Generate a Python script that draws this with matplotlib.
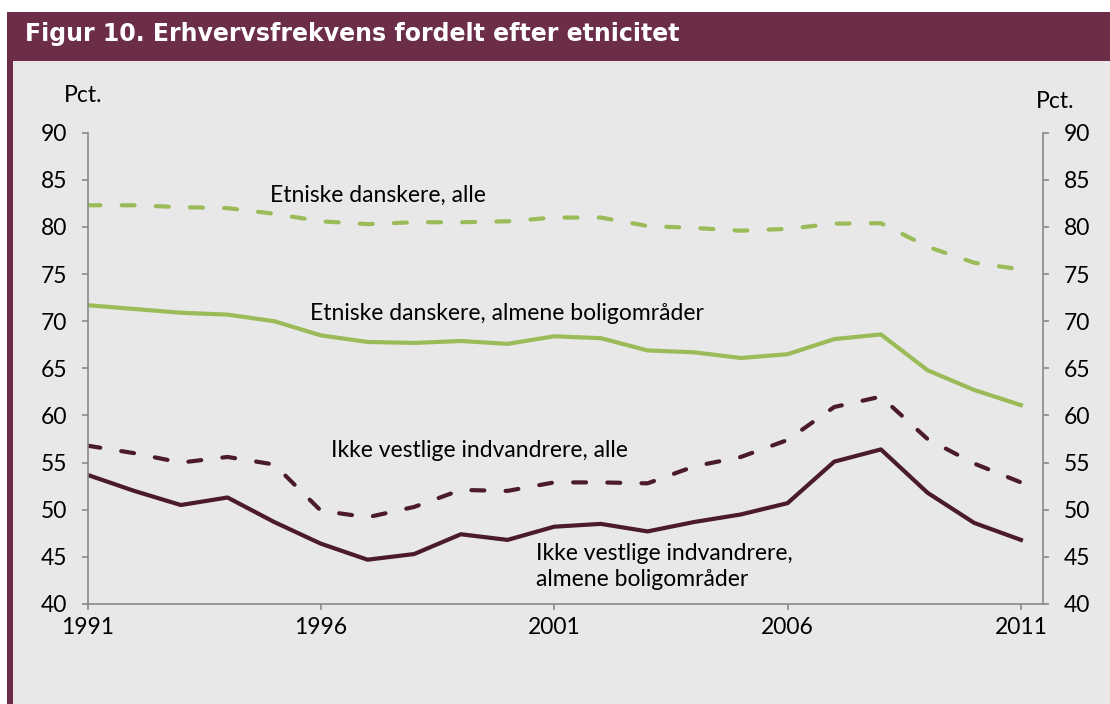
import numpy as np
import matplotlib.pyplot as plt
from matplotlib.patches import Rectangle

years = np.arange(1991, 2012)

# Etniske danskere, alle
dk_alle = [82.3, 82.3, 82.1, 82.0, 81.4, 80.6, 80.3, 80.5, 80.5, 80.6, 81.0,
           81.0, 80.1, 79.9, 79.6, 79.8, 80.35, 80.4, 77.9, 76.2, 75.5]
# Etniske danskere, almene boligomraader
dk_almene = [71.7, 71.3, 70.9, 70.7, 70.0, 68.5, 67.8, 67.7, 67.9, 67.6, 68.4,
             68.2, 66.9, 66.7, 66.1, 66.5, 68.1, 68.6, 64.8, 62.7, 61.1]
# Ikke vestlige indvandrere, alle
iv_alle = [56.8, 56.0, 55.0, 55.6, 54.8, 49.9, 49.2, 50.3, 52.1, 52.0, 52.9,
           52.9, 52.8, 54.6, 55.6, 57.4, 60.9, 62.0, 57.5, 54.9, 52.9]
# Ikke vestlige indvandrere, almene boligomraader
iv_almene = [53.7, 52.0, 50.5, 51.3, 48.7, 46.4, 44.7, 45.3, 47.4, 46.8, 48.2,
             48.5, 47.7, 48.7, 49.5, 50.7, 55.1, 56.4, 51.8, 48.6, 46.8]

yticks = [40, 45, 50, 55, 60, 65, 70, 75, 80, 85, 90]
xticks = [1991, 1996, 2001, 2006, 2011]

green = '#9bbb59'
dark = '#4b1a2d'
maroon = '#6b2d47'
bg = '#e8e8e8'
axcol = '#8a8a8a'

W, H = 1110, 704
fig = plt.figure(figsize=(W / 100, H / 100), dpi=100, facecolor='white')

# frame: grey panel, maroon title bar and left strip
fig.patches.append(Rectangle((13 / W, 0), 1 - 13 / W, 1 - 61 / H, transform=fig.transFigure,
                             facecolor=bg, edgecolor='none', zorder=-5))
fig.patches.append(Rectangle((7 / W, 0), 6 / W, 1 - 12 / H, transform=fig.transFigure,
                             facecolor=maroon, edgecolor='none', zorder=-5))
fig.patches.append(Rectangle((7 / W, 1 - 61 / H), 1 - 7 / W, 49 / H, transform=fig.transFigure,
                             facecolor=maroon, edgecolor='none', zorder=-5))
fig.text(25 / W, 1 - 34 / H, 'Figur 10. Erhvervsfrekvens fordelt efter etnicitet',
         color='white', fontsize=17, fontweight='bold', family='DejaVu Sans', va='center')

font = 'Lato'
fs = 16.5
dash = (3.1, 5.1)

ax = fig.add_axes([87.5 / W, 1 - 604 / H, (1043.3 - 87.5) / W, (604 - 132.7) / H])
ax.set_zorder(2)
ax.patch.set_alpha(0)

ax.plot(years, dk_alle, color=green, lw=3, dashes=dash, dash_capstyle='round')
ax.plot(years, dk_almene, color=green, lw=3)
ax.plot(years, iv_alle, color=dark, lw=3, dashes=dash, dash_capstyle='round')
ax.plot(years, iv_almene, color=dark, lw=3)

ax.set_xlim(1991, 2011.48)
ax.set_ylim(40, 90)
ax.set_xticks(xticks)
ax.set_yticks(yticks)
ax.spines['top'].set_visible(False)
for s in ['left', 'right', 'bottom']:
    ax.spines[s].set_color(axcol)
    ax.spines[s].set_linewidth(1.2)
ax.tick_params(axis='y', left=True, right=True, labelleft=True, labelright=True,
               direction='out', length=4.5, width=1.2, color=axcol, pad=10)
ax.tick_params(axis='x', direction='out', length=4.5, width=1.2, color=axcol, pad=5)
for t in ax.xaxis.get_major_ticks() + ax.yaxis.get_major_ticks():
    for lab in (t.label1, t.label2):
        lab.set_fontfamily(font)
        lab.set_fontsize(fs)
        lab.set_color('black')

fig.text(83 / W, 1 - 96 / H, 'Pct.', fontsize=fs, family=font, ha='center', va='center')
fig.text(1055 / W, 1 - 101 / H, 'Pct.', fontsize=fs, family=font, ha='center', va='center')

ax.text(1994.91, 83.4, 'Etniske danskere, alle', fontsize=fs, family=font, va='center')
ax.text(1995.77, 70.87, 'Etniske danskere, almene boligområder', fontsize=fs, family=font, va='center')
ax.text(1996.22, 56.3, 'Ikke vestlige indvandrere, alle', fontsize=fs, family=font, va='center')
ax.text(2000.61, 43.98, 'Ikke vestlige indvandrere,\nalmene boligområder', fontsize=fs,
        family=font, va='center', ha='left', linespacing=1.25)

fig.savefig('out.png', dpi=100, facecolor=fig.get_facecolor())
